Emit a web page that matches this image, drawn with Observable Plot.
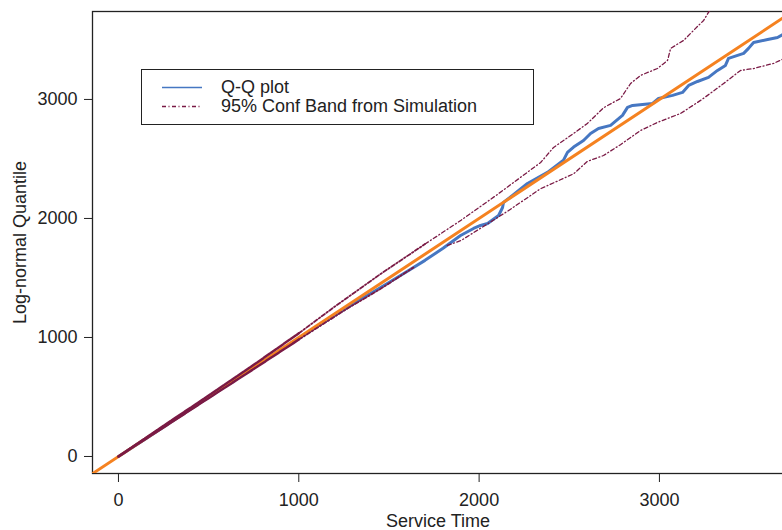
<!DOCTYPE html>
<html><head><meta charset="utf-8">
<script src="https://cdn.jsdelivr.net/npm/d3@7"></script>
<script src="https://cdn.jsdelivr.net/npm/@observablehq/plot@0.6"></script>
<style>
html,body{margin:0;padding:0;background:#fff;}
#wrap{position:relative;width:782px;height:530px;font-family:"Liberation Sans",Arial,Helvetica,sans-serif;color:#222;}
#legend{position:absolute;left:141px;top:69px;width:393px;height:56px;border:1.2px solid #222;box-sizing:border-box;background:#fff;font-size:18px;}
#legend .row{position:absolute;left:0;height:19px;line-height:19px;white-space:nowrap;}
#legend svg{position:absolute;left:19px;top:0;}
#legend span{position:absolute;left:79px;top:0;}
</style></head><body><div id="wrap"><div id="legend"></div></div>
<script>
// Q-Q plot (service time vs log-normal quantile)
const qqX = [0, 100, 200, 300, 400, 500, 600, 700, 800, 900, 1000, 1100, 1200, 1300, 1400, 1500, 1600, 1700, 1800, 1897, 1969, 2008, 2047, 2108, 2130, 2135, 2185, 2268, 2379, 2468, 2490, 2524, 2579, 2618, 2662, 2729, 2795, 2823, 2851, 2962, 2995, 3073, 3128, 3162, 3211, 3272, 3322, 3366, 3383, 3467, 3494, 3522, 3600, 3655, 3700];
const qqY = [0, 98, 198, 298, 398, 497, 597, 696, 795, 893, 992, 1090, 1186, 1280, 1372, 1462, 1555, 1648, 1750, 1857, 1916, 1941, 1958, 2025, 2092, 2134, 2193, 2294, 2387, 2490, 2555, 2600, 2655, 2714, 2756, 2782, 2866, 2933, 2950, 2966, 3008, 3034, 3059, 3118, 3151, 3185, 3244, 3286, 3345, 3387, 3429, 3479, 3504, 3521, 3560];
// 95% confidence band from simulation: upper and lower
const upX = [0, 250, 500, 750, 1000, 1200, 1450, 1700, 1900, 2100, 2341, 2413, 2524, 2600, 2690, 2784, 2840, 2895, 2989, 3045, 3062, 3134, 3189, 3245, 3272, 3330];
const upY = [0, 258, 512, 770, 1035, 1260, 1530, 1785, 1985, 2200, 2470, 2597, 2714, 2798, 2930, 3008, 3134, 3202, 3260, 3328, 3429, 3496, 3580, 3664, 3731, 3850];
const loX = [0, 250, 500, 750, 1000, 1270, 1450, 1636, 1824, 1900, 2063, 2157, 2341, 2524, 2601, 2690, 2784, 2895, 2989, 3117, 3228, 3267, 3356, 3450, 3522, 3633, 3700];
const loY = [0, 244, 490, 735, 982, 1244, 1405, 1588, 1773, 1815, 1970, 2060, 2250, 2375, 2480, 2529, 2620, 2739, 2807, 2882, 2992, 3034, 3134, 3244, 3260, 3303, 3350];
// reference line y = x
const refLine = [-300, 4000];
const xTicks = [0, 1000, 2000, 3000];
const yTicks = [0, 1000, 2000, 3000];
const xDomain = [-144, 3688];
const yDomain = [-143, 3739];
const denseLimit = 1000;  // band points very densely packed below this
const midLimit = 1700;    // band points moderately packed below this
const labels = {x: "Service Time", y: "Log-normal Quantile", qq: "Q-Q plot", band: "95% Conf Band from Simulation"};

const C_BLUE = "#4677c2", C_ORANGE = "#f58220", C_BAND = "#7a1a45";
const DASH = "4,2.5,1,2.5";

const toRows = (xs, ys) => xs.map((x, i) => ({x, y: ys[i]}));
const qq = toRows(qqX, qqY), up = toRows(upX, upY), lo = toRows(loX, loY);
const dense = rows => rows.filter(d => d.x <= denseLimit);
const mid = rows => rows.filter(d => d.x >= denseLimit && d.x <= midLimit);
const sparse = rows => rows.filter(d => d.x >= midLimit);

const bandMarks = rows => [
  Plot.line(sparse(rows), {x: "x", y: "y", stroke: C_BAND, strokeWidth: 1.3, strokeDasharray: DASH, clip: true}),
  Plot.line(mid(rows), {x: "x", y: "y", stroke: C_BAND, strokeWidth: 1.8, strokeDasharray: "4,2,1.5,2", clip: true}),
  Plot.line(dense(rows), {x: "x", y: "y", stroke: C_BAND, strokeWidth: 2.4, strokeDasharray: "7,1", clip: true})
];

const chart = Plot.plot({
  width: 782, height: 530,
  marginLeft: 92, marginRight: -1, marginTop: 11, marginBottom: 57,
  style: {fontFamily: '"Liberation Sans", Arial, Helvetica, sans-serif', fontSize: "18px", color: "#222", background: "#fff"},
  x: {domain: xDomain},
  y: {domain: yDomain},
  marks: [
    Plot.frame({stroke: "#222", strokeWidth: 1.3}),
    Plot.axisX({ticks: xTicks, tickSize: 9, tickPadding: 11, tickFormat: d => String(d), label: labels.x, labelAnchor: "center", labelArrow: "none", labelOffset: 53, fontSize: 18}),
    Plot.axisY({ticks: yTicks, tickSize: 8, tickPadding: 7, tickFormat: d => String(d), label: labels.y, labelAnchor: "center", labelArrow: "none", labelOffset: 79, fontSize: 18}),
    Plot.line(qq, {x: "x", y: "y", stroke: C_BLUE, strokeWidth: 3, clip: true}),
    Plot.line(refLine, {x: d => d, y: d => d, stroke: C_ORANGE, strokeWidth: 3, clip: true}),
    ...bandMarks(up),
    ...bandMarks(lo)
  ]
});
const wrap = document.getElementById("wrap");
wrap.insertBefore(chart, wrap.firstChild);

const legend = document.getElementById("legend");
[[labels.qq, C_BLUE, null, 1.6, 8], [labels.band, C_BAND, DASH, 1.3, 27]].forEach(([t, c, dash, w, top]) => {
  const row = document.createElement("div");
  row.className = "row"; row.style.top = top + "px"; row.style.width = "100%";
  row.innerHTML = `<svg width="42" height="19"><line x1="1" x2="41" y1="9.5" y2="9.5" stroke="${c}" stroke-width="${w}" ${dash ? `stroke-dasharray="${dash}"` : ""}/></svg><span>${t}</span>`;
  legend.appendChild(row);
});
</script>
</body></html>
